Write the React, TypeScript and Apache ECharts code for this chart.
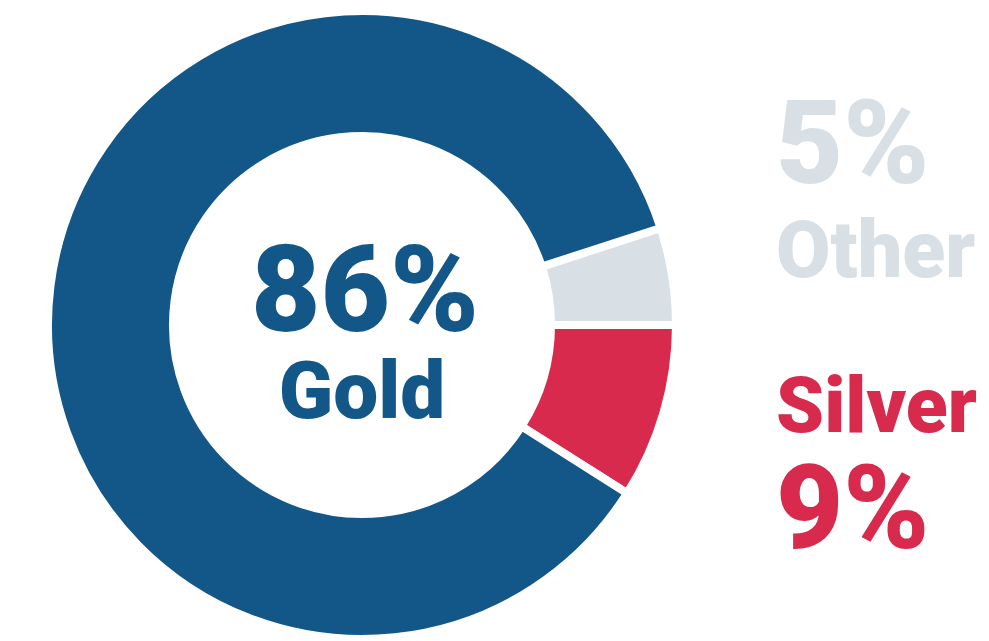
import React, { useEffect, useRef } from "react";
import * as echarts from "echarts";

const categories = ["Other", "Silver", "Gold"];
const values = [5, 9, 86];
const colors = ["#d8e0e5", "#d72a4c", "#135789"];

const FONT = "Roboto, Lato, 'Liberation Sans', sans-serif";

export default function App() {
  const ref = useRef<HTMLDivElement>(null);
  useEffect(() => {
    if (!ref.current) return;
    const chart = echarts.init(ref.current, undefined, { renderer: "svg" });
    const cx = 362;
    const cy = 325;
    const txt = (text: string, x: number, capMid: number, size: number, color: string, align: string) => ({
      type: "text",
      x,
      y: capMid + 0.01 * size,
      silent: true,
      style: {
        text,
        fill: color,
        font: `900 ${size}px ${FONT}`,
        lineHeight: Math.round(size * 0.8),
        textAlign: align,
        textVerticalAlign: "middle",
      },
    });
    const gi = categories.indexOf("Gold");
    const oi = categories.indexOf("Other");
    const si = categories.indexOf("Silver");
    chart.setOption({
      animation: false,
      backgroundColor: "#ffffff",
      series: [
        {
          type: "pie",
          center: [cx, cy],
          radius: [189, 314],
          startAngle: 18,
          clockwise: true,
          label: { show: false },
          labelLine: { show: false },
          silent: true,
          itemStyle: { borderColor: "#ffffff", borderWidth: 8 },
          data: categories.map((c, i) => ({
            name: c,
            value: values[i],
            itemStyle: { color: colors[i] },
          })),
        },
      ],
      graphic: [
        txt(`${values[gi]}%`, cx + 3, 288.5, 120, colors[gi], "center"),
        txt(categories[gi], cx, 390.5, 80, colors[gi], "center"),
        txt(`${values[oi]}%`, 776, 142, 116, colors[oi], "left"),
        txt(categories[oi], 776, 249.5, 79, colors[oi], "left"),
        txt(categories[si], 776, 405, 77, colors[si], "left"),
        txt(`${values[si]}%`, 776, 507, 116, colors[si], "left"),
      ],
    });
    return () => chart.dispose();
  }, []);
  return (
    <div
      ref={ref}
      style={{ position: "fixed", left: 0, top: 0, width: 989, height: 641 }}
    />
  );
}
